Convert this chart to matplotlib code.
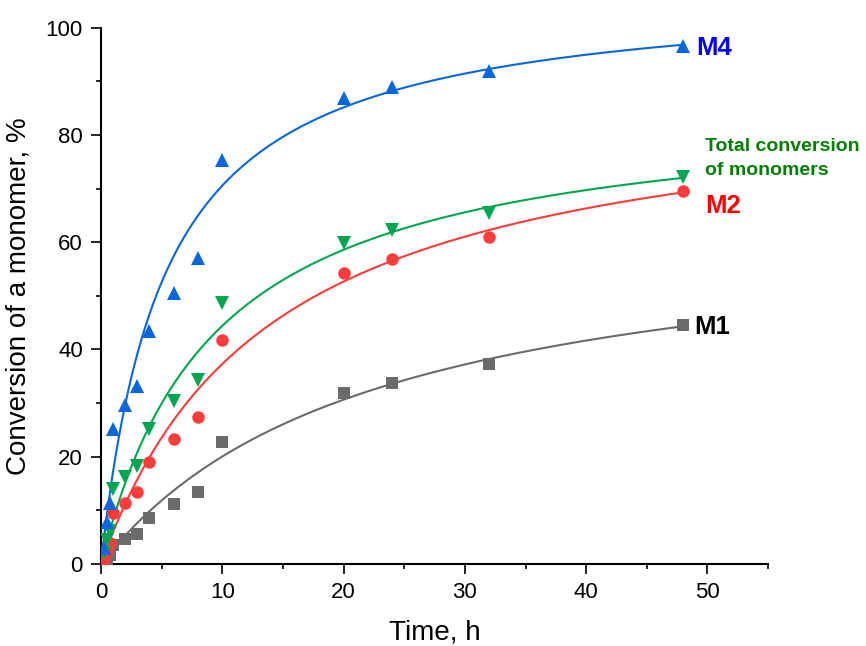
import numpy as np
import matplotlib
matplotlib.use("Agg")
from matplotlib import pyplot as plt
from matplotlib.ticker import MultipleLocator

plt.rcParams['font.family'] = ['Liberation Sans', 'DejaVu Sans']

# sampling times, h
time_h = [0.25, 0.5, 0.75, 1, 2, 3, 4, 6, 8, 10, 20, 24, 32, 48]

# conversion, %
m1 = [0.5, 1.0, 1.7, 3.6, 4.7, 5.6, 8.6, 11.2, 13.5, 22.7, 31.9, 33.8, 37.3, 44.5]
m2 = [1.0, 2.5, 4.0, 9.5, 11.4, 13.5, 19.1, 23.3, 27.5, 41.7, 54.2, 56.8, 60.9, 69.6]
m4 = [3.0, 7.8, 11.4, 25.2, 29.7, 33.1, 43.5, 50.5, 57.0, 75.4, 86.9, 89.0, 92.0, 96.6]
total = [2.0, 4.5, 6.1, 14.0, 16.3, 18.3, 25.2, 30.3, 34.3, 48.6, 59.9, 62.2, 65.5, 72.2]


def fit_hyperbola(t, y):
    # y = A*t/(B+t); grid over B, weighted least squares for A
    t = np.asarray(t, float)
    y = np.asarray(y, float)
    w = t ** 2
    best = None
    for b in np.linspace(0.5, 60, 1200):
        g = t / (b + t)
        a = np.sum(w * g * y) / np.sum(w * g * g)
        err = np.sum(w * (y - a * g) ** 2)
        if best is None or err < best[0]:
            best = (err, a, b)
    return best[1], best[2]


series = [
    (m1, '#6b6b6b', 's', 8),
    (m2, '#ff3b3b', 'o', 9),
    (total, '#00a651', 'v', 10),
    (m4, '#0a66dc', '^', 10),
]

fig = plt.figure(figsize=(8.66, 6.46), dpi=100)
ax = fig.add_axes([0.1166, 0.127, 0.7704, 0.830])

tt = np.linspace(0, 48, 400)
for vals, col, mk, ms in series:
    a, b = fit_hyperbola(time_h, vals)
    ax.plot(tt, a * tt / (b + tt), color=col, lw=1.5, zorder=2)
    ax.plot(time_h, vals, linestyle='none', marker=mk, color=col, ms=ms,
            markeredgewidth=0, zorder=3)

ax.set_xlim(0, 55)
ax.set_ylim(0, 100)
ax.xaxis.set_major_locator(MultipleLocator(10))
ax.xaxis.set_minor_locator(MultipleLocator(5))
ax.yaxis.set_major_locator(MultipleLocator(20))
ax.yaxis.set_minor_locator(MultipleLocator(10))
ax.tick_params(which='major', direction='out', length=7, width=1.2, labelsize=16, pad=6)
ax.tick_params(which='minor', direction='out', length=3.5, width=1.2)
for s in ['top', 'right']:
    ax.spines[s].set_visible(False)
for s in ['left', 'bottom']:
    ax.spines[s].set_linewidth(1.5)

ax.set_xlabel('Time, h', fontsize=20, labelpad=12)
ax.set_ylabel('Conversion of a monomer, %', fontsize=20, labelpad=10)

ax.text(49.1, 96.3, 'M4', color='#0000ff', fontsize=18.5, fontweight='bold', va='center')
ax.text(49.8, 75.6, 'Total conversion\nof monomers', color='#008000', fontsize=14,
        fontweight='bold', va='center', linespacing=1.5)
ax.text(49.8, 66.7, 'M2', color='#ff0000', fontsize=18.5, fontweight='bold', va='center')
ax.text(48.9, 44.2, 'M1', color='black', fontsize=18.5, fontweight='bold', va='center')

fig.savefig('out.png', dpi=100)
